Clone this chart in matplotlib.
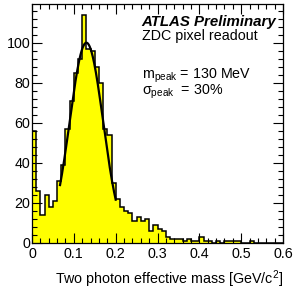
#!/usr/bin/env python3
"""Two photon effective mass, ZDC pixel readout (ATLAS Preliminary)."""

import numpy as np
import matplotlib

matplotlib.use("Agg")
import matplotlib.pyplot as plt
from matplotlib.ticker import MultipleLocator

# histogram: 60 bins of 0.01 GeV/c^2 from 0 to 0.6
bin_width = 0.01
counts = [
    56, 26, 14, 24, 18, 21, 31, 39, 57, 71,
    85, 92, 114, 97, 96, 88, 80, 57, 54, 30,
    22, 18, 16, 15, 11, 13, 11, 12, 6, 9,
    7, 6, 3, 2, 2, 2, 1, 2, 1, 1,
    3, 1, 1, 0, 1, 0, 1, 1, 1, 1,
    0, 0, 1, 0, 0, 0, 0, 0, 0, 0,
]

# gaussian fit of the peak
fit_amplitude = 100.0
fit_mean = 0.130
fit_sigma = 0.040
fit_range = (0.067, 0.200)

plt.rcParams["font.family"] = ["Liberation Sans", "DejaVu Sans"]
plt.rcParams["mathtext.fontset"] = "custom"
plt.rcParams["mathtext.rm"] = "Liberation Sans"
plt.rcParams["mathtext.it"] = "Liberation Sans:italic"
plt.rcParams["mathtext.bf"] = "Liberation Sans:bold"

fs = 10.3

fig = plt.figure(figsize=(3.06, 2.91), dpi=100)
ax = fig.add_axes([0.1046, 0.165, 0.8204, 0.821])

edges = np.arange(len(counts) + 1) * bin_width
ax.stairs(counts, edges, fill=True, color="#ffff00", lw=0)
ax.stairs(counts, edges, color="black", lw=1.1)

xf = np.linspace(*fit_range, 200)
yf = fit_amplitude * np.exp(-0.5 * ((xf - fit_mean) / fit_sigma) ** 2)
ax.plot(xf, yf, color="black", lw=1.6)

ax.set_xlim(0, 0.6)
ax.set_ylim(0, 119.3)
ax.xaxis.set_major_locator(MultipleLocator(0.1))
ax.xaxis.set_minor_locator(MultipleLocator(0.02))
ax.yaxis.set_major_locator(MultipleLocator(20))
ax.yaxis.set_minor_locator(MultipleLocator(4))
ax.set_xticks([0, 0.1, 0.2, 0.3, 0.4, 0.5, 0.6])
ax.set_xticklabels(["0", "0.1", "0.2", "0.3", "0.4", "0.5", "0.6"])
ax.tick_params(which="both", direction="in", top=True, right=True,
               labelsize=fs, width=0.8)
ax.tick_params(which="major", length=7)
ax.tick_params(which="minor", length=3.5)
ax.tick_params(axis="x", pad=3)
ax.tick_params(axis="y", pad=1)
for spine in ax.spines.values():
    spine.set_linewidth(0.9)

ax.set_xlabel("Two photon effective mass [GeV/c$^2$]", fontsize=fs,
              loc="right", labelpad=5)

ax.text(0.437, 0.908, "ATLAS Preliminary", transform=ax.transAxes,
        fontsize=10.8, fontweight="bold", fontstyle="italic", va="baseline")
ax.text(0.437, 0.849, "ZDC pixel readout", transform=ax.transAxes,
        fontsize=fs, va="baseline")
ax.text(0.437, 0.690, r"m$_{\mathrm{peak}}$ = 130 MeV", transform=ax.transAxes,
        fontsize=fs, va="baseline")
ax.text(0.437, 0.619, r"σ$_{\mathrm{peak}}$  = 30%", transform=ax.transAxes,
        fontsize=fs, va="baseline")

fig.savefig("out.png", dpi=100)
